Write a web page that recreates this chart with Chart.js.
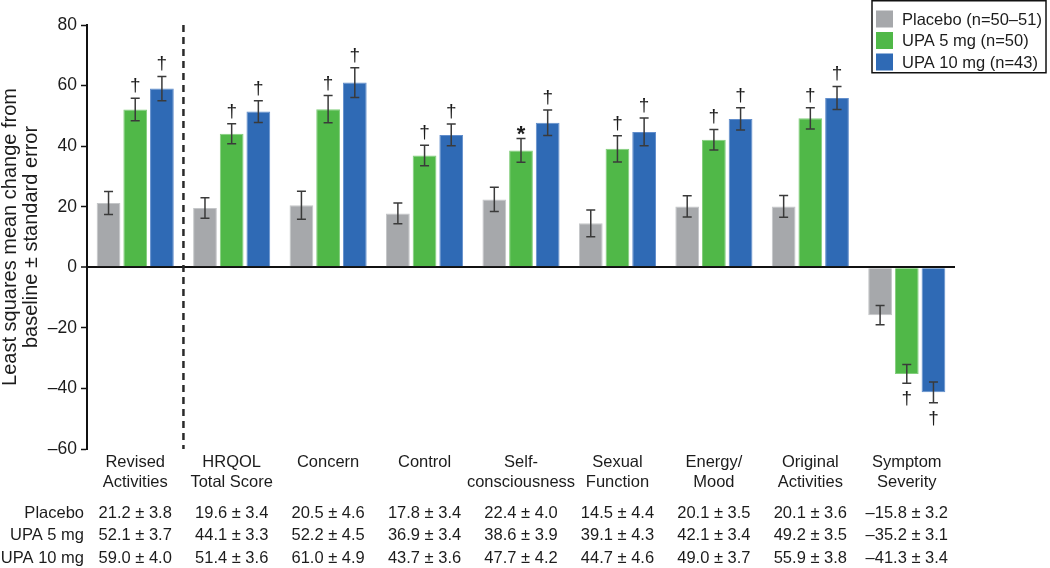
<!DOCTYPE html>
<html>
<head>
<meta charset="utf-8">
<script src="https://cdn.jsdelivr.net/npm/chart.js@4.4.1/dist/chart.umd.min.js"></script>
<style>
  html, body { margin: 0; padding: 0; background: #fff; }
  #wrap { width: 1050px; height: 568px; position: relative; }
</style>
</head>
<body>
<div id="wrap"><canvas id="chart"></canvas></div>
<script>
// categories (x axis)
const categories = [
  ['Revised', 'Activities'],
  ['HRQOL', 'Total Score'],
  ['Concern'],
  ['Control'],
  ['Self-', 'consciousness'],
  ['Sexual', 'Function'],
  ['Energy/', 'Mood'],
  ['Original', 'Activities'],
  ['Symptom', 'Severity'],
];

// least squares mean change
const placeboValues = [21.2, 19.6, 20.5, 17.8, 22.4, 14.5, 20.1, 20.1, -15.8];
const upa5Values = [52.1, 44.1, 52.2, 36.9, 38.6, 39.1, 42.1, 49.2, -35.2];
const upa10Values = [59.0, 51.4, 61.0, 43.7, 47.7, 44.7, 49.0, 55.9, -41.3];

// standard errors
const placeboSE = [3.8, 3.4, 4.6, 3.4, 4.0, 4.4, 3.5, 3.6, 3.2];
const upa5SE = [3.7, 3.3, 4.5, 3.4, 3.9, 4.3, 3.4, 3.5, 3.1];
const upa10SE = [4.0, 3.6, 4.9, 3.6, 4.2, 4.6, 3.7, 3.8, 3.4];

// significance marks
const placeboMarks = ['', '', '', '', '', '', '', '', ''];
const upa5Marks = ['†', '†', '†', '†', '*', '†', '†', '†', '†'];
const upa10Marks = ['†', '†', '†', '†', '†', '†', '†', '†', '†'];

const seriesNames = ['Placebo (n=50–51)', 'UPA 5 mg (n=50)', 'UPA 10 mg (n=43)'];
const rowNames = ['Placebo', 'UPA 5 mg', 'UPA 10 mg'];

// y axis ticks
const yMin = -60;
const yMax = 80;
const yStep = 20;

const FONT = "'Liberation Sans', Arial, Helvetica, sans-serif";
const TEXT = '#1c1c1c';

function fmt(v) {
  const s = Math.abs(v).toFixed(1);
  return v < 0 ? '–' + s : s;
}

// error bars + marks + dashed divider + table + legend box
const extrasPlugin = {
  id: 'extras',
  afterDatasetsDraw(chart) {
    const ctx = chart.ctx;
    const y = chart.scales.y;
    ctx.save();
    chart.data.datasets.forEach(function (ds, di) {
      const meta = chart.getDatasetMeta(di);
      meta.data.forEach(function (bar, i) {
        const v = ds.data[i];
        const se = ds.se[i];
        const yHi = y.getPixelForValue(v + se);
        const yLo = y.getPixelForValue(v - se);
        ctx.strokeStyle = '#3a3a3a';
        ctx.lineWidth = 1.5;
        ctx.beginPath();
        ctx.moveTo(bar.x, yHi);
        ctx.lineTo(bar.x, yLo);
        ctx.moveTo(bar.x - 4.5, yHi);
        ctx.lineTo(bar.x + 4.5, yHi);
        ctx.moveTo(bar.x - 4.5, yLo);
        ctx.lineTo(bar.x + 4.5, yLo);
        ctx.stroke();

        const mark = ds.marks[i];
        if (mark) {
          ctx.fillStyle = TEXT;
          ctx.textAlign = 'center';
          ctx.textBaseline = 'alphabetic';
          if (mark === '*') {
            ctx.font = 'bold 22px ' + FONT;
            ctx.fillText(mark, bar.x, v >= 0 ? yHi + 2 : yLo + 22);
          } else {
            ctx.font = '19px ' + FONT;
            ctx.fillText(mark, bar.x, v >= 0 ? yHi - 7 : yLo + 21);
          }
        }
      });
    });
    ctx.restore();
  },
  afterDraw(chart) {
    const ctx = chart.ctx;
    const x = chart.scales.x;
    const area = chart.chartArea;
    ctx.save();

    // dashed divider after first category
    const xd = (x.getPixelForValue(0) + x.getPixelForValue(1)) / 2;
    ctx.strokeStyle = '#2a2a2a';
    ctx.lineWidth = 2.5;
    ctx.setLineDash([7, 5]);
    ctx.beginPath();
    ctx.moveTo(xd, area.top);
    ctx.lineTo(xd, area.bottom);
    ctx.stroke();
    ctx.setLineDash([]);

    // value table under the axis
    ctx.font = '16.5px ' + FONT;
    ctx.fillStyle = TEXT;
    ctx.textBaseline = 'middle';
    const rowY = [513, 535.5, 558];
    chart.data.datasets.forEach(function (ds, di) {
      ctx.textAlign = 'right';
      ctx.fillText(rowNames[di], 84, rowY[di]);
      ctx.textAlign = 'center';
      ds.data.forEach(function (v, i) {
        ctx.fillText(fmt(v) + ' ± ' + ds.se[i].toFixed(1), x.getPixelForValue(i), rowY[di]);
      });
    });

    // legend box
    ctx.strokeStyle = '#111';
    ctx.lineWidth = 1.5;
    ctx.strokeRect(872, 0.75, 174, 72);
    ctx.font = '16.5px ' + FONT;
    ctx.textAlign = 'left';
    const legY = [19, 40.5, 62];
    chart.data.datasets.forEach(function (ds, di) {
      ctx.fillStyle = ds.backgroundColor;
      ctx.fillRect(876, legY[di] - 8.5, 17, 17);
      ctx.fillStyle = TEXT;
      ctx.fillText(seriesNames[di], 902, legY[di] + 1);
    });
    ctx.restore();
  },
};

const ctx = document.getElementById('chart');
const chart = new Chart(ctx, {
  type: 'bar',
  data: {
    labels: categories,
    datasets: [
      {
        label: seriesNames[0],
        data: placeboValues,
        se: placeboSE,
        marks: placeboMarks,
        backgroundColor: 'rgb(166, 168, 171)',
        borderColor: 'rgb(196, 198, 200)',
      },
      {
        label: seriesNames[1],
        data: upa5Values,
        se: upa5SE,
        marks: upa5Marks,
        backgroundColor: 'rgb(80, 184, 72)',
        borderColor: 'rgb(130, 206, 124)',
      },
      {
        label: seriesNames[2],
        data: upa10Values,
        se: upa10SE,
        marks: upa10Marks,
        backgroundColor: 'rgb(47, 106, 181)',
        borderColor: 'rgb(98, 142, 204)',
      },
    ],
  },
  options: {
    responsive: true,
    maintainAspectRatio: false,
    animation: false,
    events: [],
    categoryPercentage: 0.83,
    barPercentage: 0.89,
    borderWidth: 1,
    layout: {
      padding: { top: 25, right: 95, bottom: 74, left: 0 },
    },
    plugins: {
      legend: { display: false },
      tooltip: { enabled: false },
    },
    scales: {
      x: {
        grid: { display: false, drawTicks: false },
        border: { display: false },
        ticks: {
          color: TEXT,
          padding: 3,
          maxRotation: 0,
          autoSkip: false,
          font: { family: FONT, size: 16.5, lineHeight: 1.22 },
        },
        afterFit: function (scale) {
          scale.height = 45;
        },
      },
      y: {
        min: yMin,
        max: yMax,
        grid: {
          drawOnChartArea: true,
          drawTicks: true,
          tickLength: 6,
          tickColor: '#111',
          tickWidth: 1.5,
          color: function (c) {
            return c.tick && c.tick.value === 0 ? '#111' : 'rgba(0,0,0,0)';
          },
          lineWidth: function (c) {
            return c.tick && c.tick.value === 0 ? 2 : 1;
          },
        },
        border: { display: true, color: '#111', width: 2 },
        ticks: {
          stepSize: yStep,
          color: TEXT,
          padding: 4,
          font: { family: FONT, size: 17.5 },
          callback: function (v) {
            return v < 0 ? '–' + Math.abs(v) : String(v);
          },
        },
        title: {
          display: true,
          text: ['Least squares mean change from', 'baseline ± standard error'],
          color: TEXT,
          padding: { top: 0, bottom: 0 },
          font: { family: FONT, size: 20, lineHeight: 1.05 },
        },
        afterFit: function (scale) {
          scale.width = 87;
        },
      },
    },
  },
  plugins: [extrasPlugin],
});
</script>
</body>
</html>
